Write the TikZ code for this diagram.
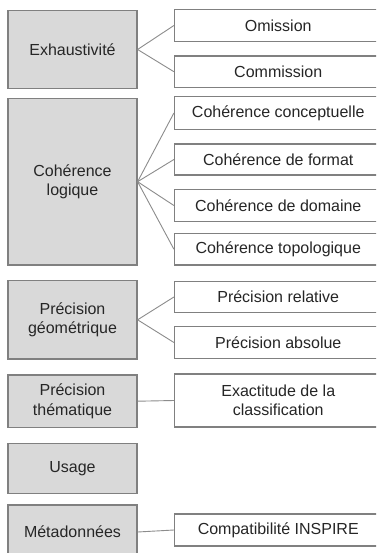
\documentclass[tikz,border=0pt]{standalone}
\usepackage{fontspec}
\setmainfont{Liberation Sans}
\begin{document}
\begin{tikzpicture}[x=1pt,y=-1pt,
  every node/.style={font=\fontsize{16}{19.5}\selectfont, text=black!85, align=center, inner sep=0pt},
  cat/.style={draw=black!50, line width=1.2pt, fill=black!15, minimum width=129pt},
  sub/.style={draw=black!50, line width=1.2pt, fill=white, minimum width=207.5pt},
  link/.style={draw=black!45, line width=0.9pt}]
  \useasboundingbox (0,0) rectangle (376,553);
  \clip (0,0) rectangle (376,553);
  \fill[white] (0,0) rectangle (376,553);

  % main criteria
  \node[cat, minimum height=77.3pt]  (exh)   at (72.5,49.5)  {Exhaustivité};
  \node[cat, minimum height=166.7pt] (coh)   at (72.5,181.7) {Cohérence\\logique};
  \node[cat, minimum height=78.3pt]  (geo)   at (72.5,319.8) {Précision\\géométrique};
  \node[cat, minimum height=52.3pt]  (them)  at (72.5,401.2) {Précision\\thématique};
  \node[cat, minimum height=50pt]    (usage) at (72.5,468.3) {Usage};
  \node[cat, minimum height=54pt]    (meta)  at (72.5,532)   {Métadonnées};

  % sub-criteria
  \node[sub, minimum height=32.4pt] (omi)  at (278.25,25.5)  {Omission};
  \node[sub, minimum height=31.3pt] (com)  at (278.25,71.7)  {Commission};
  \node[sub, minimum height=32.6pt] (conc) at (278.25,113)   {Cohérence conceptuelle};
  \node[sub, minimum height=31pt]   (form) at (278.25,159.5) {Cohérence de format};
  \node[sub, minimum height=32.4pt] (dom)  at (278.25,205.5) {Cohérence de domaine};
  \node[sub, minimum height=31.7pt] (topo) at (278.25,249.2) {Cohérence topologique};
  \node[sub, minimum height=30.6pt] (rel)  at (278.25,297)   {Précision relative};
  \node[sub, minimum height=31.6pt] (abs)  at (278.25,342.5) {Précision absolue};
  \node[sub, minimum height=53pt]   (exa)  at (278.25,400.5) {Exactitude de la\\classification};
  \node[sub, minimum height=32pt]   (insp) at (278.25,530)   {Compatibilité INSPIRE};

  % connectors
  \foreach \s in {omi,com} \draw[link] (exh.east) -- (\s.west);
  \foreach \s in {conc,form,dom,topo} \draw[link] (coh.east) -- (\s.west);
  \foreach \s in {rel,abs} \draw[link] (geo.east) -- (\s.west);
  \draw[link] (them.east) -- (exa.west);
  \draw[link] (meta.east) -- (insp.west);
\end{tikzpicture}
\end{document}
